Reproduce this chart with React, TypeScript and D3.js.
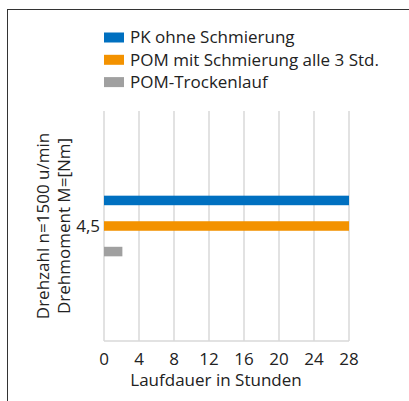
import React, { useRef, useEffect } from 'react';
import * as d3 from 'd3';

const categories = ['4,5'];
const seriesNames = ['PK ohne Schmierung', 'POM mit Schmierung alle 3 Std.', 'POM-Trockenlauf'];
const seriesValues = [28, 28, 2.1];
const seriesColors = ['#0070c0', '#f39200', '#a0a0a0'];
const xTicks = [0, 4, 8, 12, 16, 20, 24, 28];
const yTitleLines = ['Drehzahl n=1500 u/min', 'Drehmoment M=[Nm]'];
const xTitle = 'Laufdauer in Stunden';

export default function App() {
  const svgRef = useRef<SVGSVGElement | null>(null);

  useEffect(() => {
    if (!svgRef.current) return;
    const width = 409;
    const height = 401;
    const plot = { left: 104, right: 349, top: 111, bottom: 341 };
    const font = '"Open Sans", sans-serif';
    const textColor = '#222';
    const fs = 17;

    d3.select(svgRef.current).selectAll('*').remove();
    const svg = d3
      .select(svgRef.current)
      .attr('width', width)
      .attr('height', height)
      .style('font-family', font);

    svg.append('rect').attr('width', width).attr('height', height).attr('fill', '#fff');

    // outer frame, cut off at right and bottom
    svg
      .append('rect')
      .attr('x', 7.5)
      .attr('y', 9.5)
      .attr('width', 430)
      .attr('height', 430)
      .attr('fill', 'none')
      .attr('stroke', '#333')
      .attr('stroke-width', 1);

    const x = d3.scaleLinear().domain([0, 28]).range([plot.left, plot.right]);
    const y = d3
      .scaleBand<string>()
      .domain(categories)
      .range([plot.top, plot.bottom])
      .paddingInner(0)
      .paddingOuter(1);
    const ySub = d3
      .scaleBand<string>()
      .domain(seriesNames)
      .range([0, y.bandwidth()])
      .paddingInner(0.627)
      .paddingOuter(0.3135);

    // grid
    const grid = svg.append('g');
    grid
      .selectAll('line')
      .data(xTicks)
      .join('line')
      .attr('x1', (d) => x(d))
      .attr('x2', (d) => x(d))
      .attr('y1', plot.top)
      .attr('y2', plot.bottom)
      .attr('stroke', '#d9d9d9')
      .attr('stroke-width', 1.5);
    grid
      .append('line')
      .attr('x1', plot.left)
      .attr('x2', plot.right)
      .attr('y1', plot.bottom)
      .attr('y2', plot.bottom)
      .attr('stroke', '#d9d9d9')
      .attr('stroke-width', 1.5);

    // bars
    const rows = seriesNames.map((name, i) => ({
      name,
      value: seriesValues[i],
      color: seriesColors[i],
    }));
    categories.forEach((cat) => {
      svg
        .append('g')
        .attr('transform', `translate(0,${y(cat)})`)
        .selectAll('rect')
        .data(rows)
        .join('rect')
        .attr('x', x(0))
        .attr('y', (d) => ySub(d.name)!)
        .attr('width', (d) => x(d.value) - x(0))
        .attr('height', ySub.bandwidth())
        .attr('fill', (d) => d.color);
    });

    // y tick labels
    svg
      .append('g')
      .selectAll('text')
      .data(categories)
      .join('text')
      .attr('x', plot.left - 4)
      .attr('y', (d) => y(d)! + y.bandwidth() / 2)
      .attr('dy', '0.35em')
      .attr('text-anchor', 'end')
      .attr('font-size', fs)
      .attr('fill', textColor)
      .text((d) => d);

    // x tick labels
    svg
      .append('g')
      .selectAll('text')
      .data(xTicks)
      .join('text')
      .attr('x', (d) => x(d))
      .attr('y', 359)
      .attr('dy', '0.35em')
      .attr('text-anchor', 'middle')
      .attr('font-size', fs)
      .attr('fill', textColor)
      .text((d) => d);

    svg
      .append('text')
      .attr('x', 216)
      .attr('y', 380)
      .attr('dy', '0.35em')
      .attr('text-anchor', 'middle')
      .attr('font-size', fs)
      .attr('fill', textColor)
      .text(xTitle);

    // y title
    const yc = (plot.top + plot.bottom) / 2;
    svg
      .append('g')
      .selectAll('text')
      .data(yTitleLines)
      .join('text')
      .attr('transform', (d, i) => `translate(${49 + i * 21},${yc}) rotate(-90)`)
      .attr('text-anchor', 'middle')
      .attr('font-size', fs)
      .attr('fill', textColor)
      .text((d) => d);

    // legend
    const legend = svg
      .append('g')
      .selectAll('g')
      .data(rows)
      .join('g')
      .attr('transform', (d, i) => `translate(104,${37.5 + i * 22.3})`);
    legend
      .append('rect')
      .attr('x', 0)
      .attr('y', -5)
      .attr('width', 20)
      .attr('height', 10)
      .attr('fill', (d) => d.color);
    legend
      .append('text')
      .attr('x', 26)
      .attr('dy', '0.35em')
      .attr('font-size', fs)
      .attr('fill', textColor)
      .text((d) => d.name);
  }, []);

  return (
    <div style={{ position: 'absolute', left: 0, top: 0 }}>
      <svg ref={svgRef} />
    </div>
  );
}
